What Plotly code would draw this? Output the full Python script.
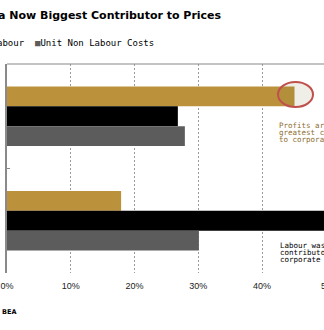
import plotly.graph_objects as go

# ---- data ----
categories = ["2020-2021", "1979-2019"]
profits = [45.1, 17.9]
unit_labour = [26.8, 52.0]
unit_non_labour = [27.9, 30.1]
x_tick_vals = [0, 10, 20, 30, 40]
x_tick_text = ["0%", "10%", "20%", "30%", "40%"]

GOLD = "#BB913C"
BLACK = "#000000"
GRAY = "#5C5C5C"
W, H = 324, 330
L, R, T, B = 7, 0, 64, 57
PW, PH = W - L - R, H - T - B
PX_PER_PCT = 6.375

def px(xp):
    return (xp - L) / PW

def py(yp):
    return (H - B - yp) / PH

fig = go.Figure()
for name, vals, col in [("Profits", profits, GOLD),
                        ("Labour", unit_labour, BLACK),
                        ("Unit Non Labour Costs", unit_non_labour, GRAY)]:
    fig.add_trace(go.Bar(y=categories, x=vals, orientation="h", name=name,
                         marker=dict(color=col, line=dict(width=0)),
                         showlegend=False))

fig.update_layout(
    width=W, height=H,
    margin=dict(l=L, r=R, t=T, b=B, pad=0),
    paper_bgcolor="white", plot_bgcolor="white",
    barmode="group", bargap=0.43, bargroupgap=0,
    xaxis=dict(range=[0, PW / PX_PER_PCT], tickvals=x_tick_vals, ticktext=x_tick_text,
               showgrid=True, gridcolor="#9a9a9a", gridwidth=1, griddash="2px,2px",
               zeroline=False, showline=False, ticks="", ticklabelstandoff=6,
               tickfont=dict(family="Liberation Sans, Arial", size=9, color="#222")),
    yaxis=dict(autorange="reversed", showticklabels=False, showgrid=False,
               zeroline=False, showline=True, linecolor="#8a8a8a", linewidth=1.5,
               tickson="boundaries", ticks="inside", ticklen=3, tickcolor="#8a8a8a"),
    font=dict(family="DejaVu Sans Mono"),
)

# top border
fig.add_shape(type="line", xref="paper", yref="paper", x0=0, x1=1.02, y0=1, y1=1,
              line=dict(color="#8a8a8a", width=1.2))

# red highlight circle
fig.add_shape(type="circle", xref="x", yref="paper",
              x0=(278 - L) / PX_PER_PCT, x1=(313 - L) / PX_PER_PCT,
              y0=py(107), y1=py(82),
              line=dict(color="#C0504D", width=2), fillcolor="rgba(120,120,60,0.12)")

ann = []
# title (cut on the left in the reference)
ann.append(dict(text="<b>a Now Biggest Contributor to Prices</b>",
                xref="paper", yref="paper", x=px(224), y=py(15), xanchor="right", yanchor="middle",
                showarrow=False, font=dict(family="DejaVu Sans", size=11, color="#000")))
# legend
ann.append(dict(text="abour",
                xref="paper", yref="paper", x=px(27), y=py(43), xanchor="right", yanchor="middle",
                showarrow=False, font=dict(family="DejaVu Sans Mono", size=9, color="#000")))
ann.append(dict(text=f'<span style="color:{GRAY}">■</span>Unit Non Labour Costs',
                xref="paper", yref="paper", x=px(33), y=py(43), xanchor="left", yanchor="middle",
                showarrow=False, font=dict(family="DejaVu Sans Mono", size=9, color="#000")))
# notes (cut on the right in the reference)
for i, line in enumerate(["Profits ar", "greatest c", "to corpora"]):
    ann.append(dict(text=line, xref="paper", yref="paper", x=px(277), y=py(125 + 7 * i),
                    xanchor="left", yanchor="middle", showarrow=False,
                    font=dict(family="DejaVu Sans Mono", size=7.5, color="#8E6E2E")))
for i, line in enumerate(["Labour was", "contributo", "corporate"]):
    ann.append(dict(text=line, xref="paper", yref="paper", x=px(278), y=py(245 + 7 * i),
                    xanchor="left", yanchor="middle", showarrow=False,
                    font=dict(family="DejaVu Sans Mono", size=7.5, color="#000")))
# 50% label at the visible edge
ann.append(dict(text="5", xref="paper", yref="paper", x=px(319), y=py(286),
                xanchor="left", yanchor="middle", showarrow=False,
                font=dict(family="Liberation Sans, Arial", size=9, color="#222")))
# source
ann.append(dict(text="<b>BEA</b>", xref="paper", yref="paper", x=px(0), y=py(312),
                xanchor="left", yanchor="middle", showarrow=False,
                font=dict(family="DejaVu Sans", size=6.5, color="#000")))
fig.update_layout(annotations=ann)

fig.write_html("out.html")
